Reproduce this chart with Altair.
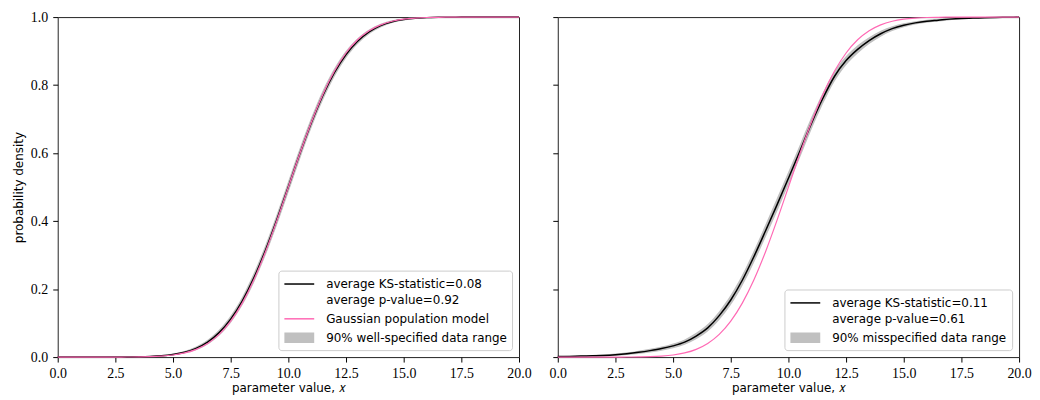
import altair as alt
import pandas as pd

# ---------------- data ----------------
X_VALUES = [0.0, 0.5, 1.0, 1.5, 2.0, 2.5, 3.0, 3.5, 4.0, 4.5, 5.0, 5.5, 6.0, 6.5,
            7.0, 7.5, 8.0, 8.5, 9.0, 9.5, 10.0, 10.5, 11.0, 11.5, 12.0, 12.5,
            13.0, 13.5, 14.0, 14.5, 15.0, 15.5, 16.0, 16.5, 17.0, 17.5, 18.0,
            18.5, 19.0, 19.5, 20.0]

# Gaussian population model (pink, same in both panels)
GAUSS_MODEL = [0.0, 0.0, 0.0, 0.0, 0.0, 0.0001, 0.0002, 0.0006, 0.0013, 0.0030,
               0.0062, 0.0122, 0.0228, 0.0401, 0.0668, 0.1056, 0.1587, 0.2266,
               0.3085, 0.4013, 0.5000, 0.5987, 0.6915, 0.7734, 0.8413, 0.8944,
               0.9332, 0.9599, 0.9772, 0.9878, 0.9938, 0.9970, 0.9987, 0.9994,
               0.9998, 0.9999, 1.0, 1.0, 1.0, 1.0, 1.0]

# left panel: average empirical CDF (well-specified) and half-width of the 90% band
LEFT_AVG = [0.0, 0.0, 0.0, 0.0, 0.0, 0.0001, 0.0003, 0.0008, 0.0018, 0.0038,
            0.0076, 0.0142, 0.0258, 0.0442, 0.0720, 0.1115, 0.1648, 0.2322,
            0.3130, 0.4040, 0.5010, 0.5985, 0.6900, 0.7705, 0.8375, 0.8900,
            0.9290, 0.9565, 0.9750, 0.9865, 0.9930, 0.9966, 0.9984, 0.9993,
            0.9997, 0.9999, 1.0, 1.0, 1.0, 1.0, 1.0]
LEFT_SPREAD = [0.0, 0.0, 0.0, 0.0003, 0.0005, 0.0007, 0.001, 0.001, 0.0015, 0.002,
               0.003, 0.004, 0.0055, 0.007, 0.009, 0.011, 0.013, 0.015, 0.016,
               0.017, 0.0175, 0.017, 0.016, 0.015, 0.013, 0.011, 0.009, 0.007,
               0.0055, 0.004, 0.003, 0.002, 0.0015, 0.001, 0.001, 0.0005, 0.0003,
               0.0, 0.0, 0.0, 0.0]

# right panel: average empirical CDF (misspecified) and half-width of the 90% band
RIGHT_AVG = [0.0015, 0.002, 0.003, 0.004, 0.005, 0.007, 0.010, 0.014, 0.019, 0.025,
             0.033, 0.044, 0.062, 0.086, 0.122, 0.168, 0.226, 0.295, 0.370, 0.447,
             0.526, 0.606, 0.688, 0.762, 0.826, 0.872, 0.905, 0.931, 0.951, 0.966,
             0.976, 0.983, 0.988, 0.991, 0.994, 0.996, 0.997, 0.998, 0.999, 0.9995,
             1.0]
RIGHT_SPREAD = [0.0015, 0.002, 0.002, 0.0025, 0.003, 0.0035, 0.004, 0.005, 0.0055,
                0.006, 0.007, 0.008, 0.0095, 0.011, 0.013, 0.015, 0.0167, 0.018,
                0.019, 0.020, 0.020, 0.0196, 0.0186, 0.017, 0.0153, 0.0135, 0.012,
                0.010, 0.0085, 0.007, 0.006, 0.005, 0.0045, 0.004, 0.003, 0.0025,
                0.002, 0.0015, 0.001, 0.0005, 0.0]

X_TICKS = [0.0, 2.5, 5.0, 7.5, 10.0, 12.5, 15.0, 17.5, 20.0]
Y_TICKS = [0.0, 0.2, 0.4, 0.6, 0.8, 1.0]

KS_LEFT = "average KS-statistic=0.08|average p-value=0.92"
KS_RIGHT = "average KS-statistic=0.11|average p-value=0.61"
GAUSS_LABEL = "Gaussian population model"
BAND_LEFT = "90% well-specified data range"
BAND_RIGHT = "90% misspecified data range"

# ---------------- styling ----------------
BLACK = "#000000"
PINK = "#ff69b4"
GREY = "#c0c0c0"
SANS = "DejaVu Sans"
SERIF = "Liberation Serif"
PW, PH = 464, 342
# legend glyphs (unit coords, scaled by the legend symbol size)
LINE_GLYPH = "M-1,0H3"
PATCH_GLYPH = "M-1,-0.6H3M-1,-0.4H3M-1,-0.2H3M-1,0H3M-1,0.2H3M-1,0.4H3M-1,0.6H3"


def make_legend():
    return alt.Legend(
        title=None, orient="bottom-right", offset=7,
        labelExpr="split(datum.label, '|')",
        labelFont=SANS, labelFontSize=12, labelColor="black", labelLimit=400,
        labelOffset=26, symbolSize=225, symbolStrokeWidth=1.5, symbolOpacity=1,
        rowPadding=4, padding=5,
        strokeColor="#cccccc", fillColor="rgba(255,255,255,0.8)", cornerRadius=3,
    )


def panel(avg, spread, ks_label, band_label, gauss_in_legend, first):
    df = pd.DataFrame({"x": X_VALUES, "avg": avg, "gauss": GAUSS_MODEL, "spread": spread})
    df["lo"] = (df["avg"] - df["spread"]).clip(0, 1)
    df["hi"] = (df["avg"] + df["spread"]).clip(0, 1)

    if gauss_in_legend:
        domain = [ks_label, GAUSS_LABEL, band_label]
        colors = [BLACK, PINK, GREY]
        glyphs = [LINE_GLYPH, LINE_GLYPH, PATCH_GLYPH]
    else:
        domain = [ks_label, band_label]
        colors = [BLACK, GREY]
        glyphs = [LINE_GLYPH, PATCH_GLYPH]
    cscale = alt.Scale(domain=domain, range=colors)
    sscale = alt.Scale(domain=domain, range=glyphs)
    leg = make_legend()

    xenc = alt.X("x:Q", scale=alt.Scale(domain=[0, 20], nice=False, zero=False),
                 axis=alt.Axis(values=X_TICKS, format=".1f", title="parameter value, \U0001D465",
                               labelFlush=False, labelOverlap=False))
    yaxis = alt.Axis(values=Y_TICKS, format=".1f", labels=first,
                     title="probability density" if first else None,
                     labelFlush=False, labelOverlap=False)
    yscale = alt.Scale(domain=[0, 1], nice=False)
    col = alt.Color("series:N", scale=cscale, legend=leg)

    base = alt.Chart(df)
    # legend carrier (no rows drawn): gives each legend entry its own glyph
    keys = base.transform_filter("false").transform_calculate(series="'" + ks_label + "'").mark_point(
        filled=False, opacity=1).encode(
        x=xenc, y=alt.Y("avg:Q", scale=yscale, axis=yaxis),
        color=col, shape=alt.Shape("series:N", scale=sscale, legend=leg),
    )
    band = base.transform_calculate(series="'" + band_label + "'").mark_area(
        opacity=1, interpolate="monotone").encode(
        x=xenc,
        y=alt.Y("lo:Q", scale=yscale, axis=yaxis),
        y2="hi:Q",
        color=col,
    )
    black = base.transform_calculate(series="'" + ks_label + "'").mark_line(
        strokeWidth=1.5, interpolate="monotone").encode(
        x=xenc,
        y=alt.Y("avg:Q", scale=yscale, axis=yaxis),
        color=col,
    )
    if gauss_in_legend:
        pink = base.transform_calculate(series="'" + GAUSS_LABEL + "'").mark_line(
            strokeWidth=1.2, interpolate="monotone").encode(
            x=xenc, y=alt.Y("gauss:Q", scale=yscale, axis=yaxis), color=col)
    else:
        pink = base.mark_line(strokeWidth=1.2, interpolate="monotone", color=PINK).encode(
            x=xenc, y=alt.Y("gauss:Q", scale=yscale, axis=yaxis))
    return alt.layer(keys, band, black, pink).properties(width=PW, height=PH)


left = panel(LEFT_AVG, LEFT_SPREAD, KS_LEFT, BAND_LEFT, True, True)
right = panel(RIGHT_AVG, RIGHT_SPREAD, KS_RIGHT, BAND_RIGHT, False, False)

chart = (
    alt.hconcat(left, right, spacing=39, bounds="flush")
    .resolve_scale(color="independent", shape="independent")
    .resolve_legend(color="independent", shape="independent")
    .properties(padding={"left": 4, "top": 0, "right": 0, "bottom": 0})
    .configure(style={"guide-label": {"lineHeight": 16}})
    .configure_view(stroke="#222222", strokeWidth=1)
    .configure_axis(
        grid=False, domain=False,
        tickColor="black", tickSize=5, tickWidth=1,
        labelFont=SERIF, labelFontSize=14, labelColor="black", labelPadding=5,
        titleFont=SANS, titleFontSize=12, titleFontWeight="normal", titleColor="black",
    )
    .configure_axisX(titlePadding=2)
    .configure_axisY(titlePadding=5)
)

chart.save("out.html", embed_options={"renderer": "svg", "actions": False})
